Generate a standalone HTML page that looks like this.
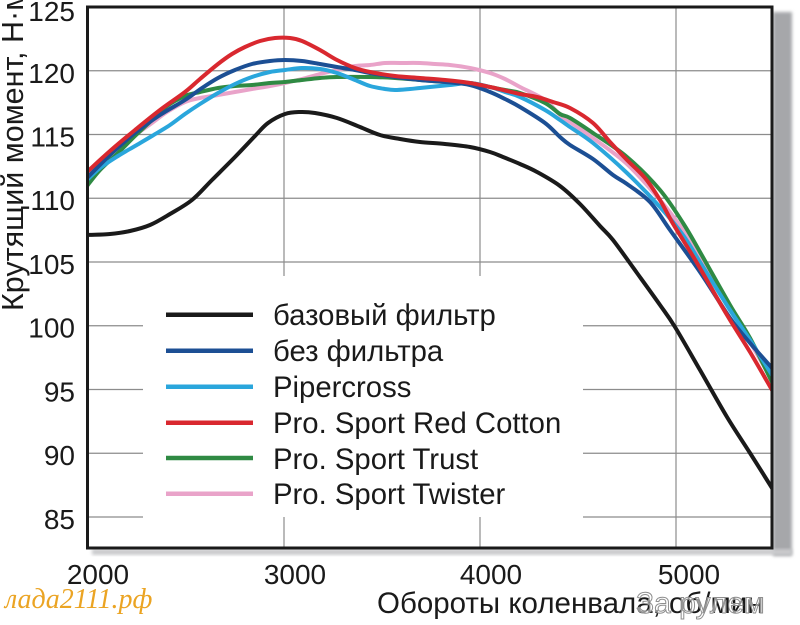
<!DOCTYPE html>
<html><head><meta charset="utf-8"><style>
html,body{margin:0;padding:0;background:#fff;}
svg{display:block;}
text{font-family:"Liberation Sans",sans-serif;fill:#1a1a1a;}
</style></head><body>
<svg id="chart" width="800" height="625" viewBox="0 0 800 625" xmlns="http://www.w3.org/2000/svg">
<defs>
<filter id="bl" x="-20%" y="-20%" width="140%" height="140%"><feGaussianBlur stdDeviation="1.5"/></filter>
<clipPath id="pc"><rect x="89" y="8" width="682" height="539"/></clipPath>
</defs>
<rect width="800" height="625" fill="#fff"/>
<!-- shadow -->
<rect x="773" y="12" width="19" height="544" fill="#a6a7aa" filter="url(#bl)"/>
<rect x="92" y="549" width="700" height="6" fill="#cacbcd" filter="url(#bl)"/>
<rect x="88" y="7" width="684" height="541" fill="#fff"/>
<!-- grid -->
<g stroke="#8c8c8c" stroke-width="1.2">
<line x1="89" y1="70.75" x2="771" y2="70.75"/>
<line x1="89" y1="134.5" x2="771" y2="134.5"/>
<line x1="89" y1="198.25" x2="771" y2="198.25"/>
<line x1="89" y1="262" x2="771" y2="262"/>
<line x1="89" y1="325.75" x2="143" y2="325.75"/><line x1="583" y1="325.75" x2="771" y2="325.75"/>
<line x1="89" y1="389.5" x2="143" y2="389.5"/><line x1="583" y1="389.5" x2="771" y2="389.5"/>
<line x1="89" y1="453.25" x2="143" y2="453.25"/><line x1="583" y1="453.25" x2="771" y2="453.25"/>
<line x1="89" y1="517" x2="143" y2="517"/><line x1="583" y1="517" x2="771" y2="517"/>
<line x1="284" y1="8" x2="284" y2="276"/><line x1="284" y1="517" x2="284" y2="547"/>
<line x1="480" y1="8" x2="480" y2="276"/><line x1="480" y1="517" x2="480" y2="547"/>
<line x1="676" y1="8" x2="676" y2="547"/>
</g>
<!-- curves -->
<g id="curves" clip-path="url(#pc)" fill="none" stroke-width="4" stroke-linejoin="round" stroke-linecap="round">
<polyline stroke="#1a1a1a" points="87,235 110,234 130,231 150,225 170,214 192,200 212,180 235,157 255,136 268,123 285,114 300,112 315,113 337,118 360,127 380,135 400,139 420,142 445,144 470,147 490,152 503,157 520,164 537,172 560,186 580,204 600,226 613,240 637,273 660,305 675,327 700,370 727,417 750,453 772,488"/>
<polyline stroke="#e9a3c9" points="87,174 100,160 118,147 135,135 152,123 167,112 185,102 200,98 218,95 235,92 252,89 270,86 285,83 302,79 320,74 337,70 355,66 370,65 385,63 400,63 420,63 435,64 450,65 470,68 490,73 505,79 520,87 545,100 560,115 570,122 593,138 627,164 660,200 683,230 700,258 730,308 750,342 772,380"/>
<polyline stroke="#2f8a43" points="87,186 100,170 118,153 135,136 152,120 167,106 185,96 200,92 218,88 235,86 252,85 270,83 285,82 302,80 320,78 337,77 370,77 395,78 420,80 445,82 470,83 490,87 505,90 520,93 545,103 560,114 570,118 593,133 627,157 660,190 683,223 700,252 730,305 750,338 772,382"/>
<polyline stroke="#2aa6dc" points="87,180 100,168 118,156 135,146 152,136 170,125 185,114 200,104 218,93 235,84 252,77 270,72 285,70 302,68 320,69 337,73 355,80 370,86 385,89 395,90 410,89 420,88 450,85 470,83 490,87 505,92 520,97 545,110 560,120 570,127 593,143 627,173 660,207 683,235 700,262 730,310 750,340 772,375"/>
<polyline stroke="#1c4f94" points="87,178 110,155 135,133 160,115 185,100 202,88 218,78 235,70 252,64 270,61 285,60 302,61 320,64 337,67 355,70 370,73 395,77 420,80 445,82 470,85 490,92 505,99 520,107 545,123 560,137 570,145 593,159 613,175 627,184 650,202 670,230 700,272 730,318 750,343 772,368"/>
<polyline stroke="#d9282f" points="87,172 110,151 135,130 160,110 185,92 200,79 218,64 232,54 245,47 260,41 275,38 290,38 302,41 320,50 337,60 355,68 370,72 395,76 420,78 445,80 470,83 490,87 503,90 520,94 537,97 553,102 570,108 593,123 610,142 627,160 645,178 660,200 672,222 683,240 697,263 727,315 750,352 772,390"/>
</g>
<!-- frame -->
<rect x="87.5" y="7" width="684.5" height="541" fill="none" stroke="#1a1a1a" stroke-width="3"/>
<!-- y labels -->
<g font-size="28" text-anchor="end">
<text x="75" y="21">125</text>
<text x="75" y="83">120</text>
<text x="75" y="146.5">115</text>
<text x="75" y="210">110</text>
<text x="75" y="274">105</text>
<text x="75" y="337.5">100</text>
<text x="75" y="401.5">95</text>
<text x="75" y="465">90</text>
<text x="75" y="529">85</text>
</g>
<!-- x labels -->
<g font-size="28" text-anchor="middle">
<text x="98" y="584">2000</text>
<text x="295" y="584">3000</text>
<text x="491" y="584">4000</text>
<text x="689" y="584">5000</text>
</g>
<!-- legend -->
<g stroke-width="4.5">
<line x1="166" y1="314.7" x2="253" y2="314.7" stroke="#1a1a1a"/>
<line x1="166" y1="350.7" x2="253" y2="350.7" stroke="#1c4f94"/>
<line x1="166" y1="386.7" x2="253" y2="386.7" stroke="#2aa6dc"/>
<line x1="166" y1="422.7" x2="253" y2="422.7" stroke="#d9282f"/>
<line x1="166" y1="458" x2="253" y2="458" stroke="#2f8a43"/>
<line x1="166" y1="493.7" x2="253" y2="493.7" stroke="#e9a3c9"/>
</g>
<g font-size="29.3">
<text x="273" y="325">базовый фильтр</text>
<text x="273" y="361">без фильтра</text>
<text x="273" y="397">Pipercross</text>
<text x="273" y="433">Pro. Sport Red Cotton</text>
<text x="273" y="469">Pro. Sport Trust</text>
<text x="273" y="504">Pro. Sport Twister</text>
</g>
<!-- axis titles -->
<text font-size="30.5" transform="translate(23,311) rotate(-90)">Крутящий момент, Н·м</text>
<text x="377" y="613" font-size="29.5">Обороты коленвала, об/мин</text>
<text x="636" y="613" font-size="30" style="fill:#fff;fill-opacity:0.55;stroke:#8e8e8e;stroke-width:1">За рулем</text>
<!-- watermark -->
<text x="5" y="608" font-size="28" font-style="italic" style="font-family:'Liberation Serif',serif;fill:#eba423">лада2111.рф</text>
</svg>
<script>
(function(){
  var g=document.getElementById('curves');
  if(!g) return;
  var pls=g.querySelectorAll('polyline');
  var ns='http://www.w3.org/2000/svg';
  for(var k=0;k<pls.length;k++){
    var pl=pls[k];
    var raw=pl.getAttribute('points').trim().split(/\s+/);
    var p=raw.map(function(s){var a=s.split(',');return [parseFloat(a[0]),parseFloat(a[1])];});
    if(p.length<3) continue;
    var d='M'+p[0][0]+','+p[0][1];
    for(var i=0;i<p.length-1;i++){
      var p0=p[i>0?i-1:i],p1=p[i],p2=p[i+1],p3=p[i+2<p.length?i+2:i+1];
      var c1x=p1[0]+(p2[0]-p0[0])/6,c1y=p1[1]+(p2[1]-p0[1])/6;
      var c2x=p2[0]-(p3[0]-p1[0])/6,c2y=p2[1]-(p3[1]-p1[1])/6;
      d+=' C'+c1x.toFixed(2)+','+c1y.toFixed(2)+' '+c2x.toFixed(2)+','+c2y.toFixed(2)+' '+p2[0]+','+p2[1];
    }
    var path=document.createElementNS(ns,'path');
    path.setAttribute('d',d);
    path.setAttribute('stroke',pl.getAttribute('stroke'));
    g.replaceChild(path,pl);
  }
})();
</script>
</body></html>
